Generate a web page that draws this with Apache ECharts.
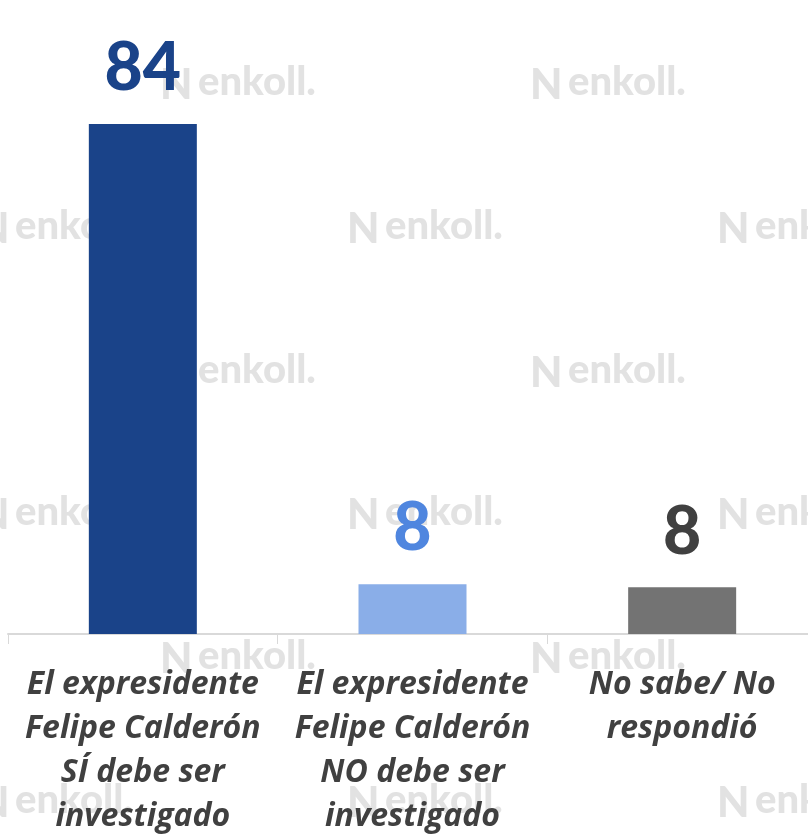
<!DOCTYPE html>
<html lang="es">
<head>
    <meta charset="UTF-8">
    <title>Calderón</title>
    <script src="https://cdn.jsdelivr.net/npm/echarts@6/dist/echarts.min.js"></script>
    <style>
        html, body { margin: 0; padding: 0; background: #fff; }
        #chart { width: 808px; height: 837px; }
    </style>
</head>
<body>
<div id="chart"></div>
<script>
    var categories = [
        'El expresidente\nFelipe Calderón\nSÍ debe ser\ninvestigado',
        'El expresidente\nFelipe Calderón\nNO debe ser\ninvestigado',
        'No sabe/ No\nrespondió'
    ];
    var values = [84, 8.2, 7.7];
    var barColors = ['#1a4389', '#8aaee8', '#737373'];
    var labelColors = ['#1a4389', '#4f86df', '#404040'];

    // marca de agua
    var marks = [];
    var rows = [
        {y: 88, xs: [198, 568]},
        {y: 232, xs: [15, 385, 755]},
        {y: 376, xs: [198, 568]},
        {y: 518, xs: [15, 385, 755]},
        {y: 662, xs: [198, 568]},
        {y: 806, xs: [15, 385, 755]}
    ];
    rows.forEach(function (r) {
        r.xs.forEach(function (x) {
            marks.push({
                type: 'text', z: 0, left: x - 38, top: r.y - 24,
                style: {text: 'N', font: '900 42px Lato', fill: '#e2e2e2'}
            });
            marks.push({
                type: 'text', z: 0, left: x, top: r.y - 26,
                style: {text: 'enkoll.', font: '900 40px Lato', fill: '#e2e2e2'}
            });
        });
    });

    var chart = echarts.init(document.getElementById('chart'));
    chart.setOption({
        animation: false,
        graphic: marks,
        grid: {left: 8, width: 809, top: 124, bottom: 203, containLabel: false, outerBoundsMode: 'none'},
        xAxis: {
            type: 'category',
            data: categories,
            axisLine: {lineStyle: {color: '#d9d9d9', width: 2}},
            axisTick: {show: true, length: 10, lineStyle: {color: '#d9d9d9', width: 1}},
            axisLabel: {
                interval: 0,
                margin: 29,
                color: '#404040',
                fontFamily: 'Open Sans',
                fontStyle: 'italic',
                fontWeight: 'bold',
                fontSize: 32,
                lineHeight: 44
            }
        },
        yAxis: {type: 'value', min: 0, max: 84, show: false, splitLine: {show: false}},
        series: [{
            type: 'bar',
            z: 2,
            barWidth: 108,
            data: values.map(function (v, i) {
                return {
                    value: v,
                    itemStyle: {color: barColors[i]},
                    label: {color: labelColors[i]}
                };
            }),
            label: {
                show: true,
                position: 'top',
                distance: 22,
                fontFamily: 'Lato',
                fontWeight: 900,
                fontSize: 66,
                lineHeight: 66,
                formatter: function (p) { return Math.round(p.value); }
            }
        }]
    });
</script>
</body>
</html>
